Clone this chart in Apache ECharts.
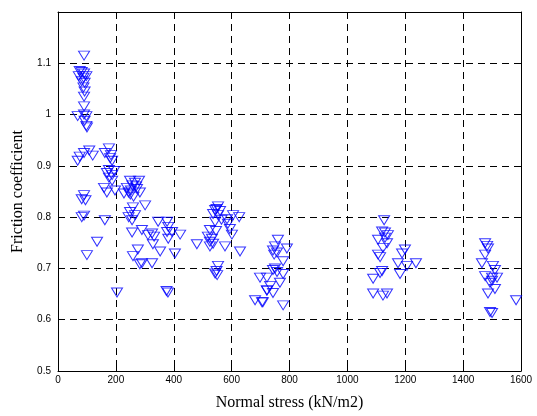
<!DOCTYPE html>
<html>
<head>
<meta charset="utf-8">
<script src="https://cdn.jsdelivr.net/npm/echarts@6/dist/echarts.min.js"></script>
<style>html,body{margin:0;padding:0;background:#fff}#c{width:537px;height:416px}</style>
</head>
<body>
<div id="c"></div>
<script>
// Normal stress (kN/m2)
const stress = [
  90,75,82,90,72,88,98,82,92,88,92,90,90,68,90,98,92,98,100,
  108,90,75,120,68,90,82,95,90,82,100,135,162,204,
  176,162,183,180,187,176,194,169,187,176,187,159,169,197,228,
  249,266,280,257,238,252,270,244,283,250,261,273,259,301,249,256,244,266,
  256,290,325,311,332,346,276,259,328,353,290,283,325,
  377,381,377,394,381,422,404,480,380,375,
  553,548,543,560,536,553,605,626,584,543,565,587,525,546,594,601,518,532,525,536,525,577,629,
  553,548,543,550,
  698,681,705,722,
  760,750,791,743,757,747,778,750,743,757,722,778,733,767,722,743,708,778,
  1127,1120,1130,1140,1106,1130,1137,1123,1106,1113,1199,1189,1175,1206,1237,1120,1113,1089,1182,1089,1123,1137,
  1476,1483,1486,1476,1465,1503,1476,1510,1517,1500,1493,1500,1486,1493,1583,1500,1510
];
// Friction coefficient
const friction = [
  1.115,1.085,1.083,1.080,1.075,1.072,1.075,1.065,1.062,1.053,1.045,1.035,1.016,0.997,1.000,0.997,0.988,0.978,0.975,
  0.930,0.925,0.918,0.920,0.910,0.843,0.835,0.833,0.803,0.800,0.726,0.752,0.794,0.653,
  0.934,0.925,0.921,0.915,0.910,0.892,0.890,0.886,0.882,0.877,0.871,0.857,0.848,0.852,0.846,
  0.871,0.867,0.871,0.862,0.857,0.852,0.860,0.848,0.848,0.844,0.840,0.855,0.819,0.823,0.810,0.794,0.800,0.804,
  0.770,0.775,0.768,0.765,0.762,0.791,0.737,0.724,0.747,0.733,0.710,0.708,0.710,
  0.791,0.781,0.771,0.771,0.758,0.766,0.729,0.747,0.653,0.656,
  0.821,0.816,0.814,0.812,0.806,0.804,0.804,0.800,0.796,0.791,0.795,0.787,0.775,0.773,0.777,0.766,0.762,0.758,0.752,0.748,0.743,0.743,0.733,
  0.705,0.695,0.690,0.687,
  0.682,0.638,0.634,0.657,
  0.756,0.743,0.739,0.735,0.731,0.727,0.714,0.700,0.697,0.693,0.682,0.689,0.666,0.672,0.657,0.652,0.634,0.628,
  0.794,0.772,0.770,0.765,0.756,0.760,0.749,0.740,0.727,0.722,0.737,0.729,0.710,0.705,0.710,0.695,0.691,0.680,0.689,0.651,0.647,0.651,
  0.749,0.744,0.739,0.727,0.710,0.705,0.685,0.697,0.682,0.682,0.672,0.676,0.651,0.615,0.638,0.613,0.660
];
const xTicks = [0,200,400,600,800,1000,1200,1400,1600];
const yTicks = [0.5,0.6,0.7,0.8,0.9,1,1.1];

const points = stress.map((s,i)=>[s, friction[i]]);
const chart = echarts.init(document.getElementById('c'), null, {renderer:'canvas'});
const tickFont = {fontFamily:'Liberation Sans, Arial, sans-serif', fontSize:10, color:'#000'};
const dashed = {show:true, lineStyle:{color:'#000', type:[7,5], width:1}};
chart.setOption({
  backgroundColor:'#fff',
  animation:false,
  grid:{left:58, right:16, top:12, bottom:39, containLabel:false},
  xAxis:[{
    type:'value', min:0, max:1600, interval:200,
    name:'Normal stress (kN/m2)', nameLocation:'middle', nameGap:24,
    nameTextStyle:{fontFamily:'Liberation Serif, Times New Roman, serif', fontSize:16, color:'#000'},
    axisLine:{show:true, onZero:false, lineStyle:{color:'#000', width:1}},
    axisTick:{show:true, inside:true, length:4, lineStyle:{color:'#000'}},
    axisLabel:Object.assign({margin:4, formatter:v=>xTicks.includes(v)?String(v):''}, tickFont),
    splitLine:dashed
  },{
    type:'value', min:0, max:1600, interval:200, position:'top',
    axisLine:{show:true, onZero:false, lineStyle:{color:'#000', width:1}},
    axisTick:{show:true, inside:true, length:4, lineStyle:{color:'#000'}},
    axisLabel:{show:false}, splitLine:{show:false}
  }],
  yAxis:[{
    type:'value', min:0.5, max:1.2, interval:0.1,
    name:'Friction coefficient', nameLocation:'middle', nameGap:30,
    nameTextStyle:{fontFamily:'Liberation Serif, Times New Roman, serif', fontSize:16, color:'#000'},
    axisLine:{show:true, onZero:false, lineStyle:{color:'#000', width:1}},
    axisTick:{show:true, inside:true, length:4, lineStyle:{color:'#000'}},
    axisLabel:Object.assign({margin:7, showMaxLabel:false, formatter:v=>{const r=+v.toFixed(1);return yTicks.includes(r)?String(r):'';}}, tickFont),
    splitLine:dashed
  },{
    type:'value', min:0.5, max:1.2, interval:0.1, position:'right',
    axisLine:{show:true, onZero:false, lineStyle:{color:'#000', width:1}},
    axisTick:{show:true, inside:true, length:4, lineStyle:{color:'#000'}},
    axisLabel:{show:false}, splitLine:{show:false}
  }],
  series:[{
    type:'scatter', xAxisIndex:0, yAxisIndex:0,
    data:points,
    symbol:'triangle', symbolRotate:180, symbolSize:[11,9],
    itemStyle:{color:'rgba(0,0,0,0)', borderColor:'#0000ff', borderWidth:1},
    emphasis:{disabled:true}
  }]
});
</script>
</body>
</html>
